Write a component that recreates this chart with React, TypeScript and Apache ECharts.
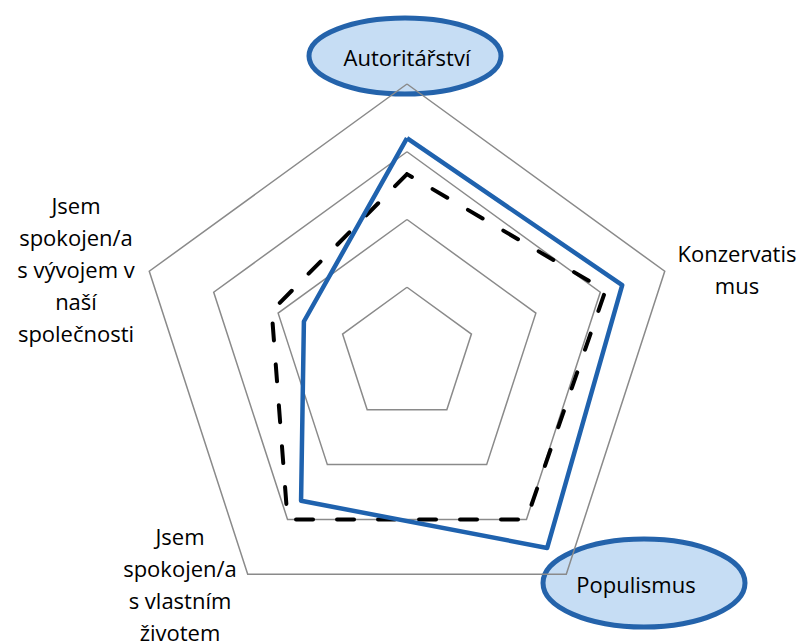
import React, { useEffect, useRef } from "react";
import * as echarts from "echarts";

// Indicators, listed counter-clockwise starting at the top
const indicatorNames = [
  "Autoritářství",
  "Jsem spokojen/a s vývojem v naší společnosti",
  "Jsem spokojen/a s vlastním životem",
  "Populismus",
  "Konzervatismus",
];
const axisMax = 4;
const seriesSolid = [3.2, 1.6, 2.66, 3.52, 3.34];
const seriesDashed = [2.67, 2.1, 3.0, 3.0, 3.08];

const FONT = "'Open Sans', sans-serif";

export default function App() {
  const ref = useRef<HTMLDivElement>(null);
  useEffect(() => {
    if (!ref.current) return;
    const chart = echarts.init(ref.current, undefined, { renderer: "svg" });
    const textStyle = (x: number, y: number, text: string) => ({
      type: "text",
      x,
      y,
      z: 10,
      style: {
        text,
        fill: "#000",
        font: `22px ${FONT}`,
        align: "center",
        verticalAlign: "middle",
        lineHeight: 32,
      },
    });
    chart.setOption({
      animation: false,
      backgroundColor: "#fff",
      radar: {
        center: [407, 355],
        radius: 271,
        shape: "polygon",
        splitNumber: 4,
        startAngle: 90,
        indicator: indicatorNames.map((name) => ({ name, max: axisMax, min: 0 })),
        axisName: { show: false },
        axisLine: { show: false },
        axisTick: { show: false },
        axisLabel: { show: false },
        splitArea: { show: false },
        splitLine: { lineStyle: { color: "#8a8a8a", width: 1.5 } },
      },
      graphic: [
        {
          type: "ellipse",
          z: -10,
          shape: { cx: 405, cy: 56, rx: 96, ry: 38 },
          style: { fill: "#c6ddf4", stroke: "#2463ab", lineWidth: 5 },
        },
        {
          type: "ellipse",
          z: -10,
          shape: { cx: 644, cy: 583, rx: 101, ry: 44 },
          style: { fill: "#c6ddf4", stroke: "#2463ab", lineWidth: 5 },
        },
        textStyle(407, 57, "Autoritářství"),
        textStyle(737, 269, "Konzervatis\nmus"),
        textStyle(636, 584, "Populismus"),
        textStyle(180, 584, "Jsem\nspokojen/a\ns vlastním\nživotem"),
        textStyle(76, 269, "Jsem\nspokojen/a\ns vývojem v\nnaší\nspolečnosti"),
      ],
      series: [
        {
          type: "radar",
          symbol: "none",
          data: [
            {
              value: seriesDashed,
              lineStyle: { color: "#000", width: 4, type: [17, 24], cap: "round" },
            },
            {
              value: seriesSolid,
              lineStyle: { color: "#1f62ae", width: 4.5, type: "solid" },
            },
          ],
        },
      ],
    });
    return () => chart.dispose();
  }, []);
  return (
    <div
      ref={ref}
      style={{ position: "absolute", left: 0, top: 0, width: 805, height: 641 }}
    />
  );
}
